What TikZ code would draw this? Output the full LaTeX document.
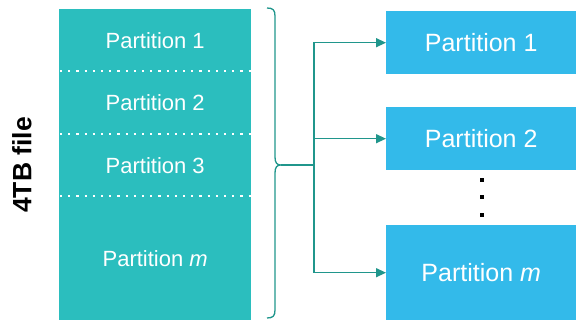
\documentclass[tikz,border=0pt]{standalone}
\usepackage{fontspec}
\setmainfont{Liberation Sans}
\usetikzlibrary{arrows.meta}
\definecolor{leftc}{RGB}{43,190,190}
\definecolor{rightc}{RGB}{51,186,234}
\definecolor{linec}{RGB}{32,150,140}
\begin{document}
\begin{tikzpicture}[x=1pt,y=-1pt,
  part/.style={fill=leftc, draw=none, minimum width=192pt, inner sep=0pt,
    text=white, font=\fontsize{22}{26}\selectfont, anchor=north west},
  outbox/.style={fill=rightc, draw=none, minimum width=190pt, inner sep=0pt,
    text=white, font=\fontsize{25}{30}\selectfont, anchor=north west},
  sep/.style={white, line width=2.2pt, dash pattern=on 2.2pt off 6pt},
  conn/.style={linec, line width=1.3pt},
  arr/.style={conn, -{Triangle[length=10pt,width=9pt]}},
  bracec/.style={linec, line width=1.3pt}]
\useasboundingbox (0,0) rectangle (576,320);
% left block
\node[part, minimum height=62pt] (p1) at (59,9) {Partition 1};
\node[part, minimum height=63pt] (p2) at (59,71) {Partition 2};
\node[part, minimum height=62pt] (p3) at (59,134) {Partition 3};
\node[part, minimum height=124pt] (pm) at (59,196) {Partition \textit{m}};
\draw[sep] ([xshift=1pt]p2.north west) -- (p2.north east);
\draw[sep] ([xshift=1pt]p3.north west) -- (p3.north east);
\draw[sep] ([xshift=1pt]pm.north west) -- (pm.north east);
% label
\node[rotate=90, font=\fontsize{26.5}{30}\selectfont\bfseries] (lbl) at (22,165) {4TB file};
% brace
\coordinate (tip) at (281,165);
\draw[bracec] (267,8) .. controls (273,8) and (275,10) .. (275,16)
  -- (275,157) .. controls (275,163) and (277,165) .. (tip)
  .. controls (277,165) and (275,167) .. (275,173)
  -- (275,310) .. controls (275,316) and (273,318) .. (267,318);
% right boxes
\node[outbox, minimum height=63pt] (r1) at (386,11) {Partition 1};
\node[outbox, minimum height=63pt] (r2) at (386,107) {Partition 2};
\node[outbox, minimum height=95pt] (r3) at (386,225) {Partition \textit{m}};
% dots
\foreach \yy in {180,197,215} \fill (480,\yy-2) rectangle (484,\yy+2);
% connectors
\coordinate (j) at (314,165);
\draw[conn] (tip) -- (j);
\draw[arr] (j) |- (r1.west);
\draw[arr] (j) |- (r2.west);
\draw[arr] (j) |- (r3.west);
\end{tikzpicture}
\end{document}
